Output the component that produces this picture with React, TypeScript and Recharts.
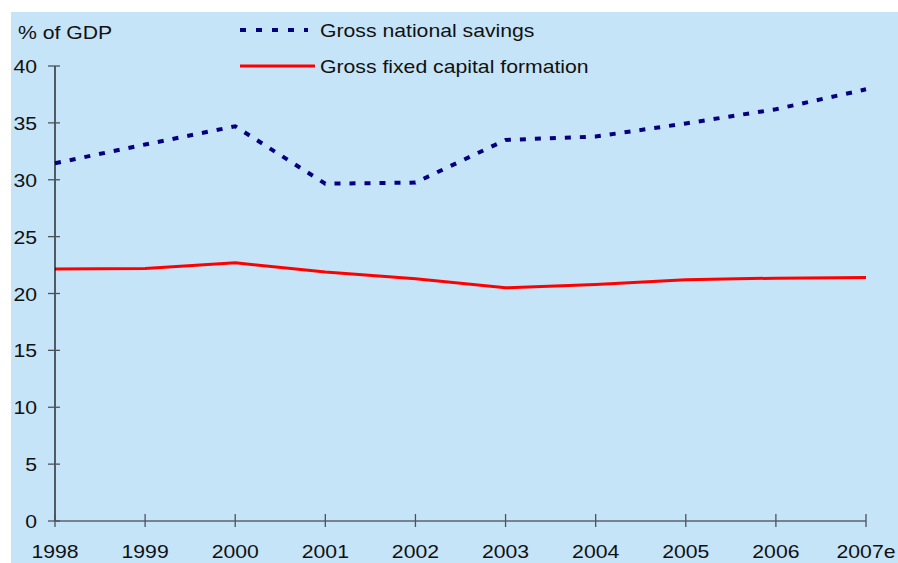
import React from 'react';
import { LineChart, Line, XAxis, YAxis, Legend, Label } from 'recharts';

const years = ['1998', '1999', '2000', '2001', '2002', '2003', '2004', '2005', '2006', '2007e'];
const grossNationalSavings = [31.45, 33.1, 34.7, 29.65, 29.75, 33.5, 33.8, 34.95, 36.2, 37.95];
const grossFixedCapital = [22.15, 22.2, 22.7, 21.9, 21.3, 20.5, 20.8, 21.2, 21.35, 21.4];
const yTicks = [0, 5, 10, 15, 20, 25, 30, 35, 40];

const data = years.map((year, i) => ({
  year,
  savings: grossNationalSavings[i],
  gfcf: grossFixedCapital[i],
}));

const FONT = '"Liberation Sans", Arial, Helvetica, sans-serif';
const BG = '#C6E4F8';

// the source font is a bit wider than Arial, so stretch it sideways
const WideText = ({ x, y, anchor = 'start', children }: any) => (
  <text
    transform={`translate(${x},${y}) scale(1.14,1)`}
    textAnchor={anchor}
    fontSize={18.6}
    fontFamily={FONT}
    fill="#111"
  >
    {children}
  </text>
);

// ticks cross the axis line, so draw them by hand
const XTick = ({ x, y, payload }: any) => (
  <g>
    <line x1={x} x2={x} y1={y - 7} y2={y + 6} stroke="#4a535c" strokeWidth={1.3} />
    <WideText x={x} y={y + 37} anchor="middle">{payload.value}</WideText>
  </g>
);

const YTick = ({ x, y, payload }: any) => (
  <g>
    <line x1={x - 7} x2={x + 5} y1={y} y2={y} stroke="#4a535c" strokeWidth={1.3} />
    <WideText x={x - 18} y={y + 7} anchor="end">{payload.value}</WideText>
  </g>
);

const renderLegend = () => (
  <svg width={700} height={80} style={{ display: 'block' }}>
    <line x1={229} x2={297} y1={18} y2={18} stroke="#000080" strokeWidth={4} strokeDasharray="6 10" />
    <WideText x={309} y={25}>Gross national savings</WideText>
    <line x1={229} x2={304} y1={54} y2={54} stroke="#FF0000" strokeWidth={3} />
    <WideText x={309} y={61}>Gross fixed capital formation</WideText>
  </svg>
);

const App: React.FC = () => {
  return (
    <div style={{ position: 'absolute', top: 0, left: 0, width: 898, height: 563, background: '#fff' }}>
      <div style={{ position: 'absolute', top: 12, left: 11, width: 887, height: 551, background: BG }}>
        <LineChart
          width={887}
          height={551}
          data={data}
          margin={{ top: 54, right: 32, bottom: 12, left: 10 }}
        >
          <XAxis
            dataKey="year"
            interval={0}
            tickSize={0}
            tickMargin={0}
            height={30}
            tick={<XTick />}
            axisLine={{ stroke: '#5b6570', strokeWidth: 1.6 }}
          />
          <YAxis
            domain={[0, 40]}
            ticks={yTicks}
            width={34}
            tickSize={0}
            tickMargin={0}
            tick={<YTick />}
            axisLine={{ stroke: '#000', strokeWidth: 1.2 }}
          >
            <Label content={() => <WideText x={7} y={27}>% of GDP</WideText>} />
          </YAxis>
          <Legend
            layout="vertical"
            align="center"
            verticalAlign="middle"
            content={renderLegend}
            wrapperStyle={{ top: 0, left: 0, width: 700, height: 80 }}
          />
          <Line
            type="linear"
            dataKey="gfcf"
            stroke="#FF0000"
            strokeWidth={3}
            dot={false}
            activeDot={false}
            isAnimationActive={false}
          />
          <Line
            type="linear"
            dataKey="savings"
            stroke="#000080"
            strokeWidth={4}
            strokeDasharray="6 9"
            dot={false}
            activeDot={false}
            isAnimationActive={false}
          />
        </LineChart>
      </div>
    </div>
  );
};

export default App;
